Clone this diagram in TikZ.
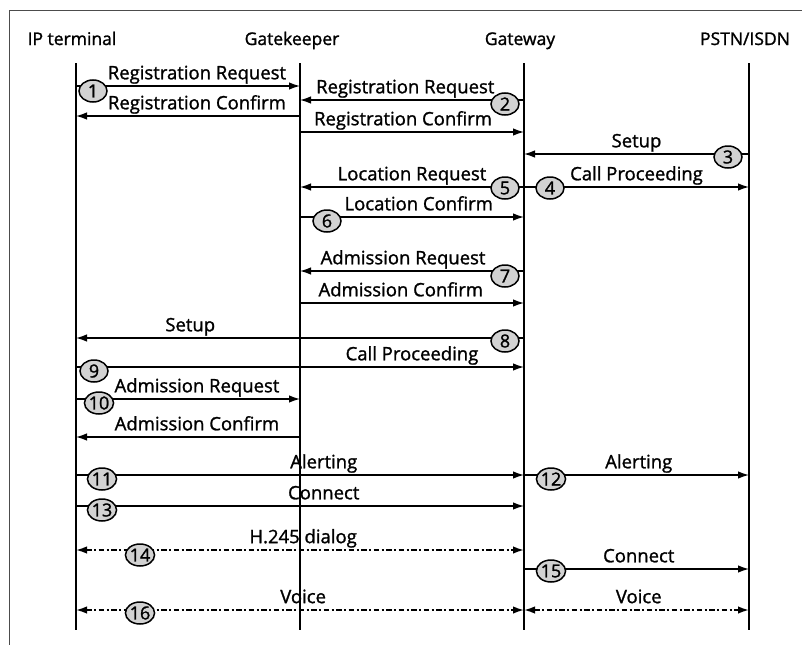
\documentclass[tikz,border=0pt]{standalone}
\usepackage{fontspec}
\setmainfont{Open Sans}
\newfontfamily\diagfont{Open Sans}[FakeBold=1.3]
\usetikzlibrary{arrows.meta,shapes.geometric}
\begin{document}
\begin{tikzpicture}[
  x=1pt, y=-1pt,
  actor/.style={anchor=base, inner sep=0pt, font=\diagfont\fontsize{17.5}{20}\selectfont},
  life/.style={line width=1.4pt},
  msg/.style={-{Latex[length=11pt,width=7.5pt]}, line width=1.4pt},
  duplex/.style={{Latex[length=11pt,width=7.5pt]}-{Latex[length=11pt,width=7.5pt]}, line width=1.7pt, dash pattern=on 5.5pt off 2.5pt on 2pt off 2.5pt},
  lbl/.style={above, inner sep=1.5pt, text depth=4.5pt, font=\diagfont\fontsize{18.5}{21}\selectfont},
  num/.style={ellipse, draw, line width=1.5pt, fill=gray!35, minimum width=28pt, minimum height=22pt, inner sep=0pt, font=\diagfont\fontsize{18}{20}\selectfont}
]
\useasboundingbox (0,0) rectangle (802,645);
\draw[line width=0.6pt, black!70] (802,10) -- (9,10) -- (9,645);

% the four parties
\node[actor] (ipt) at (72,45) {IP terminal};
\node[actor] (gk) at (292,45) {Gatekeeper};
\node[actor] (gw) at (520,45) {Gateway};
\node[actor] (pstn) at (745,45) {PSTN/ISDN};

\foreach \n/\x in {ip/76,gk/300,gw/524,ps/749} {
  \coordinate (\n-top) at (\x,63);
  \coordinate (\n-end) at (\x,630);
  \draw[life] (\n-top) -- (\n-end);
}

% one row of points on every lifeline per message
\foreach \r/\y in {1/86,2/100,3/116,4/132,5/154,6/187,7/217,8/271,9/303,10/338,
                   11/367,12/399,13/437,14/475,15/506,16/550,17/569,18/610} {
  \foreach \n/\x in {ip/76,gk/300,gw/524,ps/749}
    \coordinate (\n\r) at (\x,\y);
}

\draw[msg] (ip1) -- (gk1) node[lbl,pos=0.54] {Registration Request};
\draw[msg] (gw2) -- (gk2) node[lbl,pos=0.53] {Registration Request};
\draw[msg] (gk3) -- (ip3) node[lbl,pos=0.46] {Registration Confirm};
\draw[msg] (gk4) -- (gw4) node[lbl,pos=0.46] {Registration Confirm};
\draw[msg] (ps5) -- (gw5) node[lbl,midway] {Setup};
\draw[msg] (gw6) -- (gk6) node[lbl,midway] {Location Request};
\draw[msg] (gw6) -- (ps6) node[lbl,midway] {Call Proceeding};
\draw[msg] (gk7) -- (gw7) node[lbl,pos=0.53] {Location Confirm};
\draw[msg] (gw8) -- (gk8) node[lbl,pos=0.54] {Admission Request};
\draw[msg] (gk9) -- (gw9) node[lbl,pos=0.45] {Admission Confirm};
\draw[msg] (gw10) -- (ip10) node[lbl,pos=0.745] {Setup};
\draw[msg] (ip11) -- (gw11) node[lbl,pos=0.75] {Call Proceeding};
\draw[msg] (ip12) -- (gk12) node[lbl,pos=0.54] {Admission Request};
\draw[msg] (gk13) -- (ip13) node[lbl,pos=0.46] {Admission Confirm};
\draw[msg] (ip14) -- (gw14) node[lbl,pos=0.553] {Alerting};
\draw[msg] (gw14) -- (ps14) node[lbl,pos=0.51] {Alerting};
\draw[msg] (ip15) -- (gw15) node[lbl,pos=0.553] {Connect};
\draw[duplex] (ip16) -- (gw16) node[lbl,pos=0.507] {H.245 dialog};
\draw[msg] (gw17) -- (ps17) node[lbl,pos=0.51] {Connect};
\draw[duplex] (ip18) -- (gw18) node[lbl,pos=0.507] {Voice};
\draw[duplex] (gw18) -- (ps18) node[lbl,pos=0.51] {Voice};

% step numbers
\node[num] (s1) at (93,91) {1};
\node[num] (s2) at (505,104) {2};
\node[num] (s3) at (728,157) {3};
\node[num] (s4) at (550,188) {4};
\node[num] (s5) at (505,188) {5};
\node[num] (s6) at (327,221) {6};
\node[num] (s7) at (505,276) {7};
\node[num] (s8) at (505,341) {8};
\node[num] (s9) at (94,371) {9};
\node[num] (s10) at (99,403) {10};
\node[num] (s11) at (102,479) {11};
\node[num] (s12) at (551,479) {12};
\node[num] (s13) at (102,510) {13};
\node[num] (s14) at (140,555) {14};
\node[num] (s15) at (551,571) {15};
\node[num] (s16) at (140,613) {16};
\end{tikzpicture}
\end{document}
